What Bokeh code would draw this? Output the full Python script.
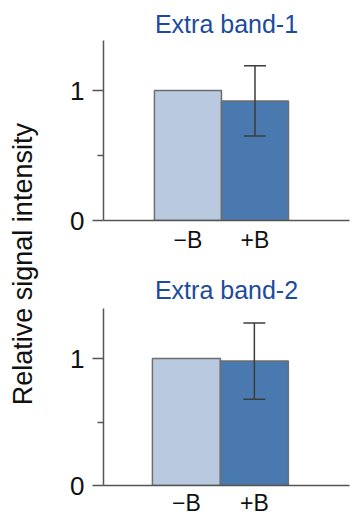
from bokeh.plotting import figure
from bokeh.models import (ColumnDataSource, Range1d, FixedTicker,
                          Whisker, TeeHead, Label)
from bokeh.layouts import row, column
from bokeh.embed import file_html
from bokeh.resources import INLINE

# ---- data ----
conditions = ["\u2212B", "+B"]
titles = ["Extra band-1", "Extra band-2"]
band1_means = [1.0, 0.92]
band1_err = [0.0, 0.27]
band2_means = [1.0, 0.98]
band2_err = [0.0, 0.30]
y_ticks = [0, 1]
y_minor_ticks = [0.5]
ylabel = "Relative signal intensity"

bar_colors = ["#b9cae0", "#4a79b0"]
FONT = "Liberation Sans"
AXIS_COLOR = "#555555"
ERR_COLOR = "#3c3c3c"


def panel(title, means, errs, x_lim, y_top, height, border_top, border_bottom,
          standoff, x_standoff):
    xpos = list(range(len(conditions)))
    src = ColumnDataSource(dict(x=xpos, mean=means, color=bar_colors))
    ex = [x for x, e in zip(xpos, errs) if e > 0]
    em = [m for m, e in zip(means, errs) if e > 0]
    ee = [e for e in errs if e > 0]
    esrc = ColumnDataSource(dict(x=ex,
                                 upper=[m + e for m, e in zip(em, ee)],
                                 lower=[m - e for m, e in zip(em, ee)]))
    p = figure(width=315, height=height, output_backend="svg", toolbar_location=None,
               x_range=Range1d(*x_lim),
               y_range=Range1d(0, y_top),
               min_border_left=59, min_border_right=10,
               min_border_top=border_top, min_border_bottom=border_bottom)
    p.title.text = title
    p.title.align = "center"
    p.title.text_font = FONT
    p.title.text_font_size = "25px"
    p.title.text_font_style = "normal"
    p.title.text_color = "#1d4b9e"
    p.title.standoff = standoff
    p.outline_line_color = None
    p.grid.grid_line_color = None
    p.background_fill_color = None
    p.border_fill_color = None

    p.vbar(x="x", top="mean", width=1.0, source=src, fill_color="color",
           line_color="#6e6e6e", line_width=1.5)
    w = Whisker(base="x", upper="upper", lower="lower", source=esrc, level="overlay",
                line_color=ERR_COLOR, line_width=1.5,
                upper_head=TeeHead(size=22, line_color=ERR_COLOR, line_width=1.5),
                lower_head=TeeHead(size=22, line_color=ERR_COLOR, line_width=1.5))
    p.add_layout(w)

    ya = p.yaxis[0]
    ya.ticker = FixedTicker(ticks=y_ticks, minor_ticks=y_minor_ticks)
    ya.axis_line_color = AXIS_COLOR
    ya.axis_line_width = 1.5
    ya.major_tick_line_color = AXIS_COLOR
    ya.major_tick_line_width = 1.5
    ya.major_tick_out = 11
    ya.major_tick_in = 0
    ya.minor_tick_line_color = AXIS_COLOR
    ya.minor_tick_line_width = 1.5
    ya.minor_tick_out = 6
    ya.minor_tick_in = 0
    ya.major_label_text_font = FONT
    ya.major_label_text_font_size = "26px"
    ya.major_label_text_color = "#111111"
    ya.major_label_standoff = 8

    xa = p.xaxis[0]
    xa.ticker = FixedTicker(ticks=xpos)
    xa.major_label_overrides = {x: c for x, c in zip(xpos, conditions)}
    xa.axis_line_color = AXIS_COLOR
    xa.axis_line_width = 1.5
    xa.major_tick_line_color = None
    xa.major_tick_out = 0
    xa.major_tick_in = 0
    xa.minor_tick_line_color = None
    xa.major_label_text_font = FONT
    xa.major_label_text_font_size = "23px"
    xa.major_label_text_color = "#111111"
    xa.major_label_standoff = x_standoff
    return p


p1 = panel(titles[0], band1_means, band1_err, (-1.26, 2.41), 1.385, 262, 40, 42, 6, 6)
p2 = panel(titles[1], band2_means, band2_err, (-1.22, 2.40), 1.394, 256, 46, 33, 9, 4)

lab = figure(width=44, height=518, output_backend="svg", toolbar_location=None,
             x_range=Range1d(0, 1), y_range=Range1d(0, 1),
             min_border=0, min_border_left=0, min_border_right=0,
             min_border_top=0, min_border_bottom=0)
lab.axis.visible = False
lab.grid.grid_line_color = None
lab.outline_line_color = None
lab.background_fill_color = None
lab.border_fill_color = None
lab.add_layout(Label(x=0.52, y=0.491, text=ylabel, angle=1.5707963,
                     text_align="center", text_baseline="middle",
                     text_font=FONT, text_font_size="27px", text_color="#111111"))

layout = row(lab, column(p1, p2, spacing=0), spacing=0)

open("out.html", "w").write(file_html(layout, INLINE))
